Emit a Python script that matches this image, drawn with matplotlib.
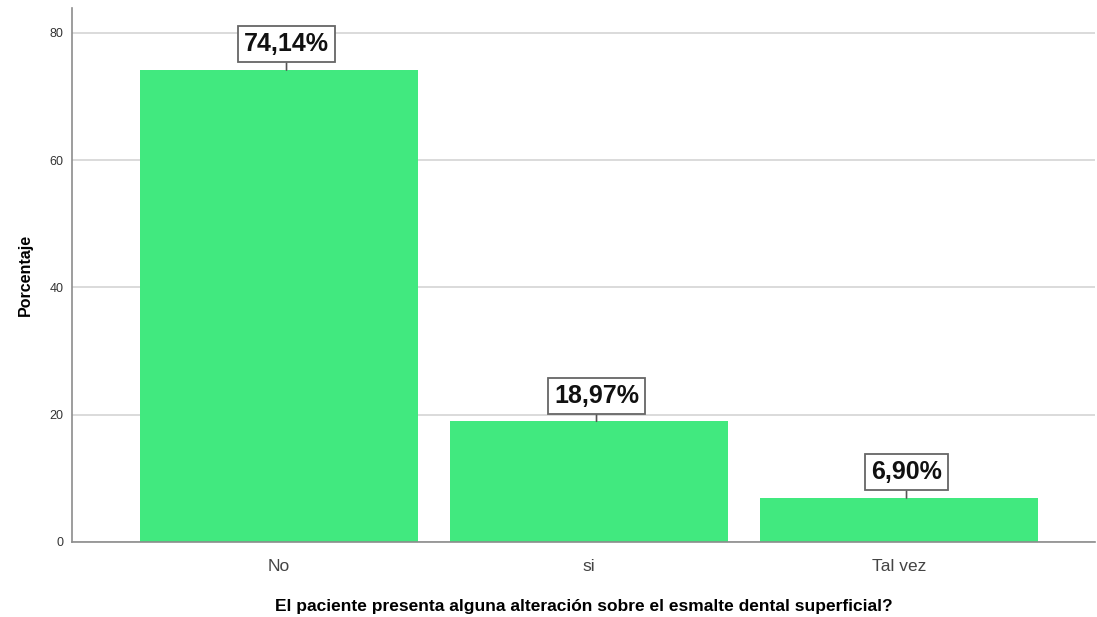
import matplotlib
matplotlib.use("Agg")
import matplotlib.pyplot as plt

categories = ["No", "si", "Tal vez"]
values = [74.14, 18.97, 6.90]
labels = ["74,14%", "18,97%", "6,90%"]
yticks = [0, 20, 40, 60, 80]

plt.rcParams['font.family'] = ['Liberation Sans', 'DejaVu Sans']

fig = plt.figure(figsize=(10.97, 6.17), dpi=100)
W, H = 1097, 617
ax = fig.add_axes([72 / W, (H - 542) / H, (1095 - 72) / W, (542 - 8) / H])

x = list(range(len(categories)))
ax.bar(x, values, width=0.897, color="#41e97f", zorder=2)

ax.set_xlim(-0.668, 2.632)
ax.set_ylim(0, 83.9)
ax.set_yticks(yticks)
ax.set_yticklabels([str(t) for t in yticks], fontsize=9, color="#333333")
ax.set_xticks(x)
ax.set_xticklabels(categories, fontsize=12.5, color="#444444")
ax.tick_params(axis="both", length=0)
ax.tick_params(axis="x", pad=12)
ax.tick_params(axis="y", pad=6)

ax.grid(axis="y", color="#d4d4d4", linewidth=1.2, zorder=0)
for s in ["top", "right"]:
    ax.spines[s].set_visible(False)
for s in ["left", "bottom"]:
    ax.spines[s].set_color("#8c8c8c")
    ax.spines[s].set_linewidth(1.2)

ax.set_ylabel("Porcentaje", fontsize=11.5, fontweight="bold", labelpad=12)
ax.set_xlabel("El paciente presenta alguna alteración sobre el esmalte dental superficial?",
              fontsize=12.5, fontweight="bold", labelpad=18)

for xi, v, lab in zip(x, values, labels):
    ax.annotate(lab, xy=(xi + 0.024, v), xytext=(0, 18.5), textcoords="offset points",
                ha="center", va="center", fontsize=18, fontweight="bold", color="#111111",
                bbox=dict(boxstyle="square,pad=0.24", fc="white", ec="#666666", lw=1.3),
                arrowprops=dict(arrowstyle="-", color="#555555", lw=1.2, shrinkA=0, shrinkB=0),
                zorder=5)

fig.savefig("out.png", dpi=100)
